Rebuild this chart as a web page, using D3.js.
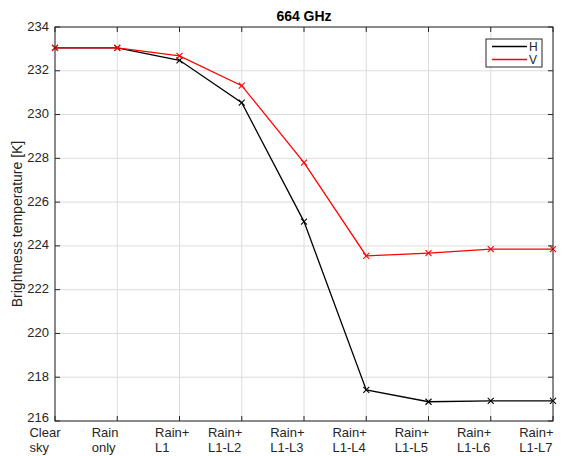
<!DOCTYPE html>
<html>
<head>
<meta charset="utf-8">
<script src="https://cdn.jsdelivr.net/npm/d3@7"></script>
<style>
  body { margin: 0; background: #fff; }
  text { font-family: Helvetica, "Liberation Sans", Arial, sans-serif; }
</style>
</head>
<body>
<svg id="chart" width="570" height="456"></svg>
<script>
var categories = [["Clear", "sky"], ["Rain", "only"], ["Rain+", "L1"], ["Rain+", "L1-L2"], ["Rain+", "L1-L3"],
                  ["Rain+", "L1-L4"], ["Rain+", "L1-L5"], ["Rain+", "L1-L6"], ["Rain+", "L1-L7"]];
var valuesH = [233.05, 233.05, 232.48, 230.54, 225.11, 217.42, 216.88, 216.92, 216.92];
var valuesV = [233.05, 233.05, 232.68, 231.32, 227.80, 223.54, 223.67, 223.85, 223.85];
var yTicks = [216, 218, 220, 222, 224, 226, 228, 230, 232, 234];
var seriesNames = ["H", "V"];
var seriesColors = ["#000000", "#ff0000"];

var svg = d3.select("#chart"),
    margin = { top: 27, right: 17, bottom: 35, left: 55 },
    width = 570 - margin.left - margin.right,
    height = 456 - margin.top - margin.bottom,
    g = svg.append("g").attr("transform", "translate(" + margin.left + "," + margin.top + ")");

var x = d3.scalePoint().domain(d3.range(categories.length)).range([0, width]),
    y = d3.scaleLinear().domain([216, 234]).range([height, 0]);

var axisColor = "#262626";

// grid
g.selectAll(".vgrid").data(d3.range(categories.length)).enter().append("line")
    .attr("x1", function (d) { return x(d); }).attr("x2", function (d) { return x(d); })
    .attr("y1", 0).attr("y2", height)
    .attr("stroke", "#dcdcdc").attr("stroke-width", 1);
g.selectAll(".hgrid").data(yTicks).enter().append("line")
    .attr("x1", 0).attr("x2", width)
    .attr("y1", function (d) { return y(d); }).attr("y2", function (d) { return y(d); })
    .attr("stroke", "#dcdcdc").attr("stroke-width", 1);

// lines
var line = d3.line()
    .x(function (d, i) { return x(i); })
    .y(function (d) { return y(d); });

var series = [valuesH, valuesV];
series.forEach(function (vals, k) {
    g.append("path")
        .attr("d", line(vals))
        .attr("fill", "none")
        .attr("stroke", seriesColors[k])
        .attr("stroke-width", 1.3);
    var m = 3;
    g.selectAll(".mk" + k).data(vals).enter().append("path")
        .attr("d", function (d, i) {
            var cx = x(i), cy = y(d);
            return "M" + (cx - m) + "," + (cy - m) + "L" + (cx + m) + "," + (cy + m) +
                   "M" + (cx - m) + "," + (cy + m) + "L" + (cx + m) + "," + (cy - m);
        })
        .attr("stroke", seriesColors[k])
        .attr("stroke-width", 1.1);
});

// box + ticks
g.append("rect").attr("width", width).attr("height", height)
    .attr("fill", "none").attr("stroke", axisColor).attr("stroke-width", 1);

var tl = 5;
d3.range(categories.length).forEach(function (i) {
    g.append("line").attr("x1", x(i)).attr("x2", x(i)).attr("y1", height).attr("y2", height - tl).attr("stroke", axisColor);
    g.append("line").attr("x1", x(i)).attr("x2", x(i)).attr("y1", 0).attr("y2", tl).attr("stroke", axisColor);
});
yTicks.forEach(function (t) {
    g.append("line").attr("x1", 0).attr("x2", tl).attr("y1", y(t)).attr("y2", y(t)).attr("stroke", axisColor);
    g.append("line").attr("x1", width).attr("x2", width - tl).attr("y1", y(t)).attr("y2", y(t)).attr("stroke", axisColor);
});

// y tick labels (lowest one nudged up so it clears the category labels)
g.selectAll(".ylab").data(yTicks).enter().append("text")
    .attr("x", -6).attr("y", function (d, i) { return y(d) - (i === 0 ? 4 : 1); })
    .attr("dy", "0.35em")
    .attr("text-anchor", "end")
    .attr("font-size", 13)
    .attr("fill", axisColor)
    .text(function (d) { return d; });

// x tick labels: lines left aligned, block centred on tick
categories.forEach(function (lines, i) {
    var t = g.append("text").attr("font-size", 13).attr("fill", axisColor);
    lines.forEach(function (s, j) {
        t.append("tspan").attr("y", height + 16 + j * 15).text(s);
    });
    var w = t.node().getBBox().width;
    t.selectAll("tspan").attr("x", x(i) - w / 2);
});

// y axis label
svg.append("text")
    .attr("transform", "translate(22," + (margin.top + height / 2) + ") rotate(-90)")
    .attr("text-anchor", "middle")
    .attr("font-size", 14)
    .attr("fill", axisColor)
    .text("Brightness temperature [K]");

// title
svg.append("text")
    .attr("x", margin.left + width / 2).attr("y", 21)
    .attr("text-anchor", "middle")
    .attr("font-size", 14).attr("font-weight", "bold")
    .attr("fill", "#000")
    .text("664 GHz");

// legend
var lg = svg.append("g").attr("transform", "translate(486,39)");
lg.append("rect").attr("width", 56).attr("height", 28)
    .attr("fill", "#fff").attr("stroke", axisColor).attr("stroke-width", 1);
seriesNames.forEach(function (name, k) {
    var yy = 7.5 + k * 13;
    lg.append("line").attr("x1", 6).attr("x2", 41).attr("y1", yy).attr("y2", yy)
        .attr("stroke", seriesColors[k]).attr("stroke-width", 1.3);
    lg.append("text").attr("x", 43).attr("y", yy).attr("dy", "0.35em")
        .attr("font-size", 12).attr("fill", axisColor).text(name);
});
</script>
</body>
</html>
